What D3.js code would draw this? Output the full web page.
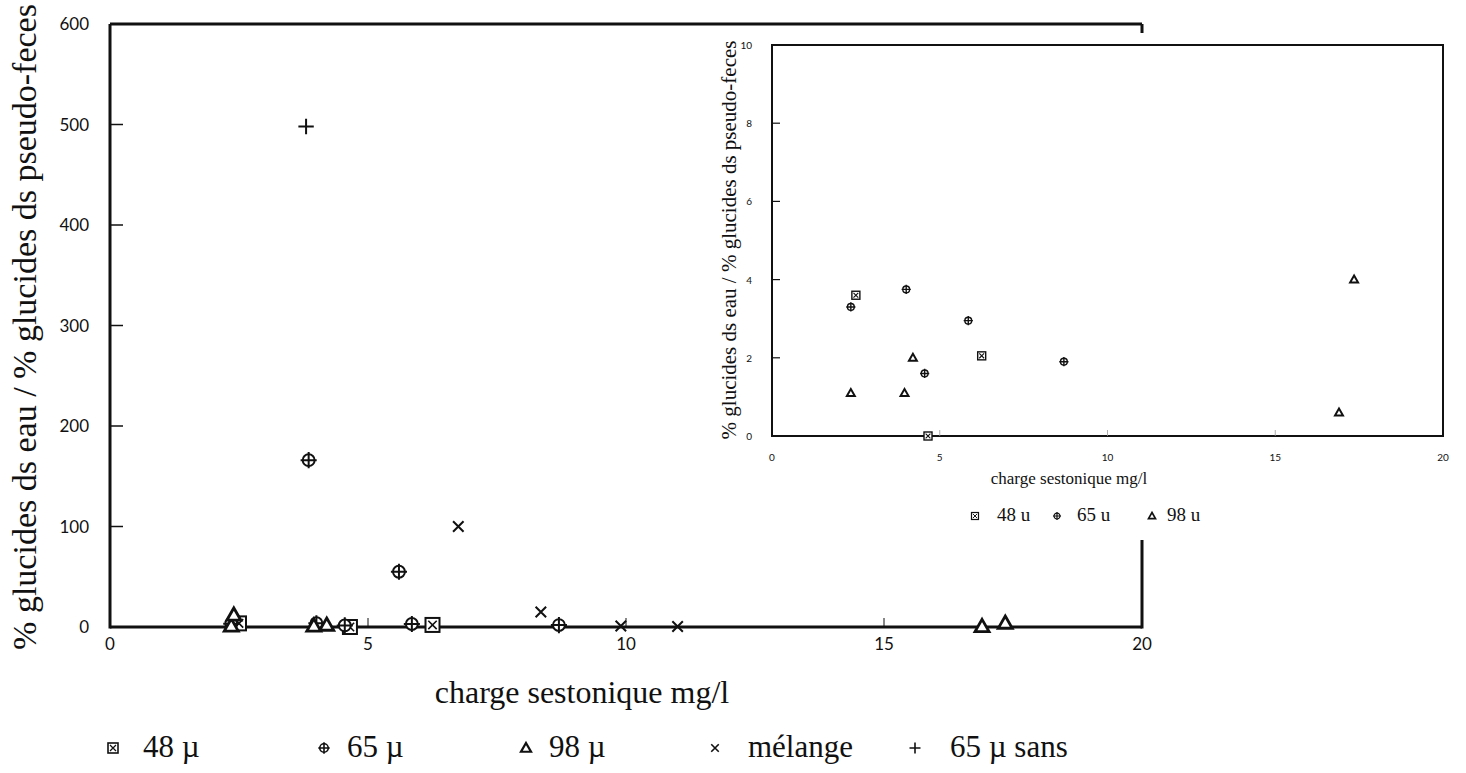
<!DOCTYPE html>
<html>
<head>
<meta charset="utf-8">
<script src="https://cdn.jsdelivr.net/npm/d3@7"></script>
<style>
  html, body { margin: 0; padding: 0; background: #fff; }
  svg { display: block; }
</style>
</head>
<body>
<svg id="chart" width="1466" height="773"></svg>
<script>
// ---------- data ----------
const s48x = [2.5, 4.65, 6.25];
const s48y = [3.6, 0, 2.05];
const s65x = [2.35, 4.0, 4.55, 5.85, 8.7, 3.85, 5.6];
const s65y = [3.3, 3.75, 1.6, 2.95, 1.9, 166, 55];
const s98x = [2.35, 3.95, 4.2, 16.9, 17.35, 2.4];
const s98y = [1.1, 1.1, 2.0, 0.6, 4.0, 12];
const melX = [6.75, 8.35, 9.9, 11.0];
const melY = [100, 15, 1, 0.5];
const sansX = [3.8];
const sansY = [498];

const mainYTicks = [0, 100, 200, 300, 400, 500, 600];
const mainXTicks = [0, 5, 10, 15, 20];
const insetYTicks = [0, 2, 4, 6, 8, 10];
const insetXTicks = [0, 5, 10, 15, 20];

const legendMain = ["48 µ", "65 µ", "98 µ", "mélange", "65 µ sans"];
const legendInset = ["48 u", "65 u", "98 u"];
const yTitle = "% glucides ds eau / % glucides ds pseudo-feces";
const xTitle = "charge sestonique mg/l";

const zip = (xs, ys) => xs.map((x, i) => ({x, y: ys[i]}));
const series = [
  {name: legendMain[0], type: "sqx", pts: zip(s48x, s48y)},
  {name: legendMain[1], type: "cplus", pts: zip(s65x, s65y)},
  {name: legendMain[2], type: "tri", pts: zip(s98x, s98y)},
  {name: legendMain[3], type: "x", pts: zip(melX, melY)},
  {name: legendMain[4], type: "plus", pts: zip(sansX, sansY)}
];

const svg = d3.select("#chart");
const INK = "#111";
const serif = "'Liberation Serif', 'Times New Roman', serif";
const numFont = "Lato, 'Open Sans', sans-serif";

function marker(g, type, s, sw) {
  if (type === "sqx") {
    g.append("rect").attr("x", -s).attr("y", -s).attr("width", 2*s).attr("height", 2*s)
      .attr("fill", "#fff").attr("stroke", INK).attr("stroke-width", sw);
    g.append("path").attr("d", `M${-s*0.6},${-s*0.6}L${s*0.6},${s*0.6}M${-s*0.6},${s*0.6}L${s*0.6},${-s*0.6}`)
      .attr("stroke", INK).attr("stroke-width", sw*0.8);
  } else if (type === "cplus") {
    g.append("circle").attr("r", s*0.85).attr("fill", "#fff").attr("stroke", INK).attr("stroke-width", sw);
    g.append("path").attr("d", `M${-s*1.15},0L${s*1.15},0M0,${-s*1.15}L0,${s*1.15}`)
      .attr("stroke", INK).attr("stroke-width", sw);
  } else if (type === "tri") {
    g.append("path").attr("d", `M0,${-s*1.0}L${s*1.0},${s*0.75}L${-s*1.0},${s*0.75}Z`)
      .attr("fill", "#fff").attr("stroke", INK).attr("stroke-width", sw*1.4).attr("stroke-linejoin", "miter");
  } else if (type === "x") {
    const k = s*0.75;
    g.append("path").attr("d", `M${-k},${-k}L${k},${k}M${-k},${k}L${k},${-k}`)
      .attr("stroke", INK).attr("stroke-width", sw);
  } else if (type === "plus") {
    g.append("path").attr("d", `M${-s*1.1},0L${s*1.1},0M0,${-s*1.1}L0,${s*1.1}`)
      .attr("stroke", INK).attr("stroke-width", sw);
  }
}

// ---------- main chart ----------
const x = d3.scaleLinear().domain([0, 20]).range([110, 1142]);
const y = d3.scaleLinear().domain([0, 600]).range([627, 24]);

const main = svg.append("g");
main.append("line").attr("x1", x(0)).attr("x2", x(0)).attr("y1", y(600)).attr("y2", y(0) + 1.5)
  .attr("stroke", INK).attr("stroke-width", 3);
main.append("line").attr("x1", x(0)).attr("x2", x(20)).attr("y1", y(0)).attr("y2", y(0))
  .attr("stroke", INK).attr("stroke-width", 3);
main.append("line").attr("x1", x(0)).attr("x2", x(20)).attr("y1", y(600)).attr("y2", y(600))
  .attr("stroke", INK).attr("stroke-width", 3);
main.append("line").attr("x1", x(20)).attr("x2", x(20)).attr("y1", y(600)).attr("y2", y(0) + 1.5)
  .attr("stroke", INK).attr("stroke-width", 3);

main.selectAll(".yt").data(mainYTicks.slice(1, -1)).join("line")
  .attr("x1", x(0)).attr("x2", x(0) + 13).attr("y1", d => y(d)).attr("y2", d => y(d))
  .attr("stroke", INK).attr("stroke-width", 1.5);
main.selectAll(".ytl").data(mainYTicks).join("text")
  .attr("x", 89).attr("y", d => y(d) + 6).attr("text-anchor", "end")
  .attr("font-family", numFont).attr("font-size", 17).attr("fill", INK).text(d => d);
main.selectAll(".xt").data(mainXTicks.slice(1, -1)).join("line")
  .attr("x1", d => x(d)).attr("x2", d => x(d)).attr("y1", y(0) - 9).attr("y2", y(0))
  .attr("stroke", INK).attr("stroke-width", 1);
main.selectAll(".xtl").data(mainXTicks).join("text")
  .attr("x", d => x(d)).attr("y", 650).attr("text-anchor", "middle")
  .attr("font-family", numFont).attr("font-size", 17).attr("fill", INK).text(d => d);

main.append("text").attr("transform", "translate(36,327) rotate(-90)").attr("text-anchor", "middle")
  .attr("font-family", serif).attr("font-size", 34).attr("fill", INK).text(yTitle);
main.append("text").attr("x", 582).attr("y", 703).attr("text-anchor", "middle")
  .attr("font-family", serif).attr("font-size", 32).attr("fill", INK).text(xTitle);

series.forEach(s => {
  s.pts.forEach(p => {
    const g = main.append("g").attr("transform", `translate(${x(p.x)},${y(p.y)})`);
    marker(g, s.type, 7, 2);
  });
});

const lgMarkX = [113, 324, 526, 715, 915];
const lgTextX = [143, 347, 549, 748, 950];
series.forEach((s, i) => {
  const g = main.append("g").attr("transform", `translate(${lgMarkX[i]},${748})`);
  marker(g, s.type, 5, 1.6);
  main.append("text").attr("x", lgTextX[i]).attr("y", 757)
    .attr("font-family", serif).attr("font-size", 31).attr("fill", INK).text(s.name);
});

// ---------- inset ----------
const ix = d3.scaleLinear().domain([0, 20]).range([772, 1443]);
const iy = d3.scaleLinear().domain([0, 10]).range([436, 45]);
const inset = svg.append("g");
inset.append("rect").attr("x", 700).attr("y", 33).attr("width", 766).attr("height", 507).attr("fill", "#fff");
inset.append("rect").attr("x", ix(0)).attr("y", iy(10)).attr("width", ix(20) - ix(0)).attr("height", iy(0) - iy(10))
  .attr("fill", "none").attr("stroke", INK).attr("stroke-width", 2);
inset.selectAll(".iyt").data(insetYTicks.slice(1, -1)).join("line")
  .attr("x1", ix(0)).attr("x2", ix(0) + 8).attr("y1", d => iy(d)).attr("y2", d => iy(d))
  .attr("stroke", INK).attr("stroke-width", 1.2);
inset.selectAll(".iytl").data(insetYTicks).join("text")
  .attr("x", 752).attr("y", d => iy(d) + 4).attr("text-anchor", "end")
  .attr("font-family", numFont).attr("font-size", 10).attr("fill", INK).text(d => d);
inset.selectAll(".ixt").data(insetXTicks.slice(1, -1)).join("line")
  .attr("x1", d => ix(d)).attr("x2", d => ix(d)).attr("y1", iy(0) - 6).attr("y2", iy(0))
  .attr("stroke", "#999").attr("stroke-width", 0.8);
inset.selectAll(".ixtl").data(insetXTicks).join("text")
  .attr("x", d => ix(d)).attr("y", 461).attr("text-anchor", "middle")
  .attr("font-family", numFont).attr("font-size", 10).attr("fill", INK).text(d => d);
inset.append("text").attr("transform", "translate(736,240) rotate(-90)").attr("text-anchor", "middle")
  .attr("font-family", serif).attr("font-size", 21).attr("fill", INK).text(yTitle);
inset.append("text").attr("x", 1069).attr("y", 484).attr("text-anchor", "middle")
  .attr("font-family", serif).attr("font-size", 17).attr("fill", INK).text(xTitle);

series.slice(0, 3).forEach(s => {
  s.pts.filter(p => p.y <= 10).forEach(p => {
    const g = inset.append("g").attr("transform", `translate(${ix(p.x)},${iy(p.y)})`);
    marker(g, s.type, 4, 1.4);
  });
});
const ilgMarkX = [975, 1057, 1152];
const ilgTextX = [997, 1077, 1167];
series.slice(0, 3).forEach((s, i) => {
  const g = inset.append("g").attr("transform", `translate(${ilgMarkX[i]},${516})`);
  marker(g, s.type, 3.5, 1.2);
  inset.append("text").attr("x", ilgTextX[i]).attr("y", 521)
    .attr("font-family", serif).attr("font-size", 19).attr("fill", INK).text(legendInset[i]);
});
</script>
</body>
</html>
